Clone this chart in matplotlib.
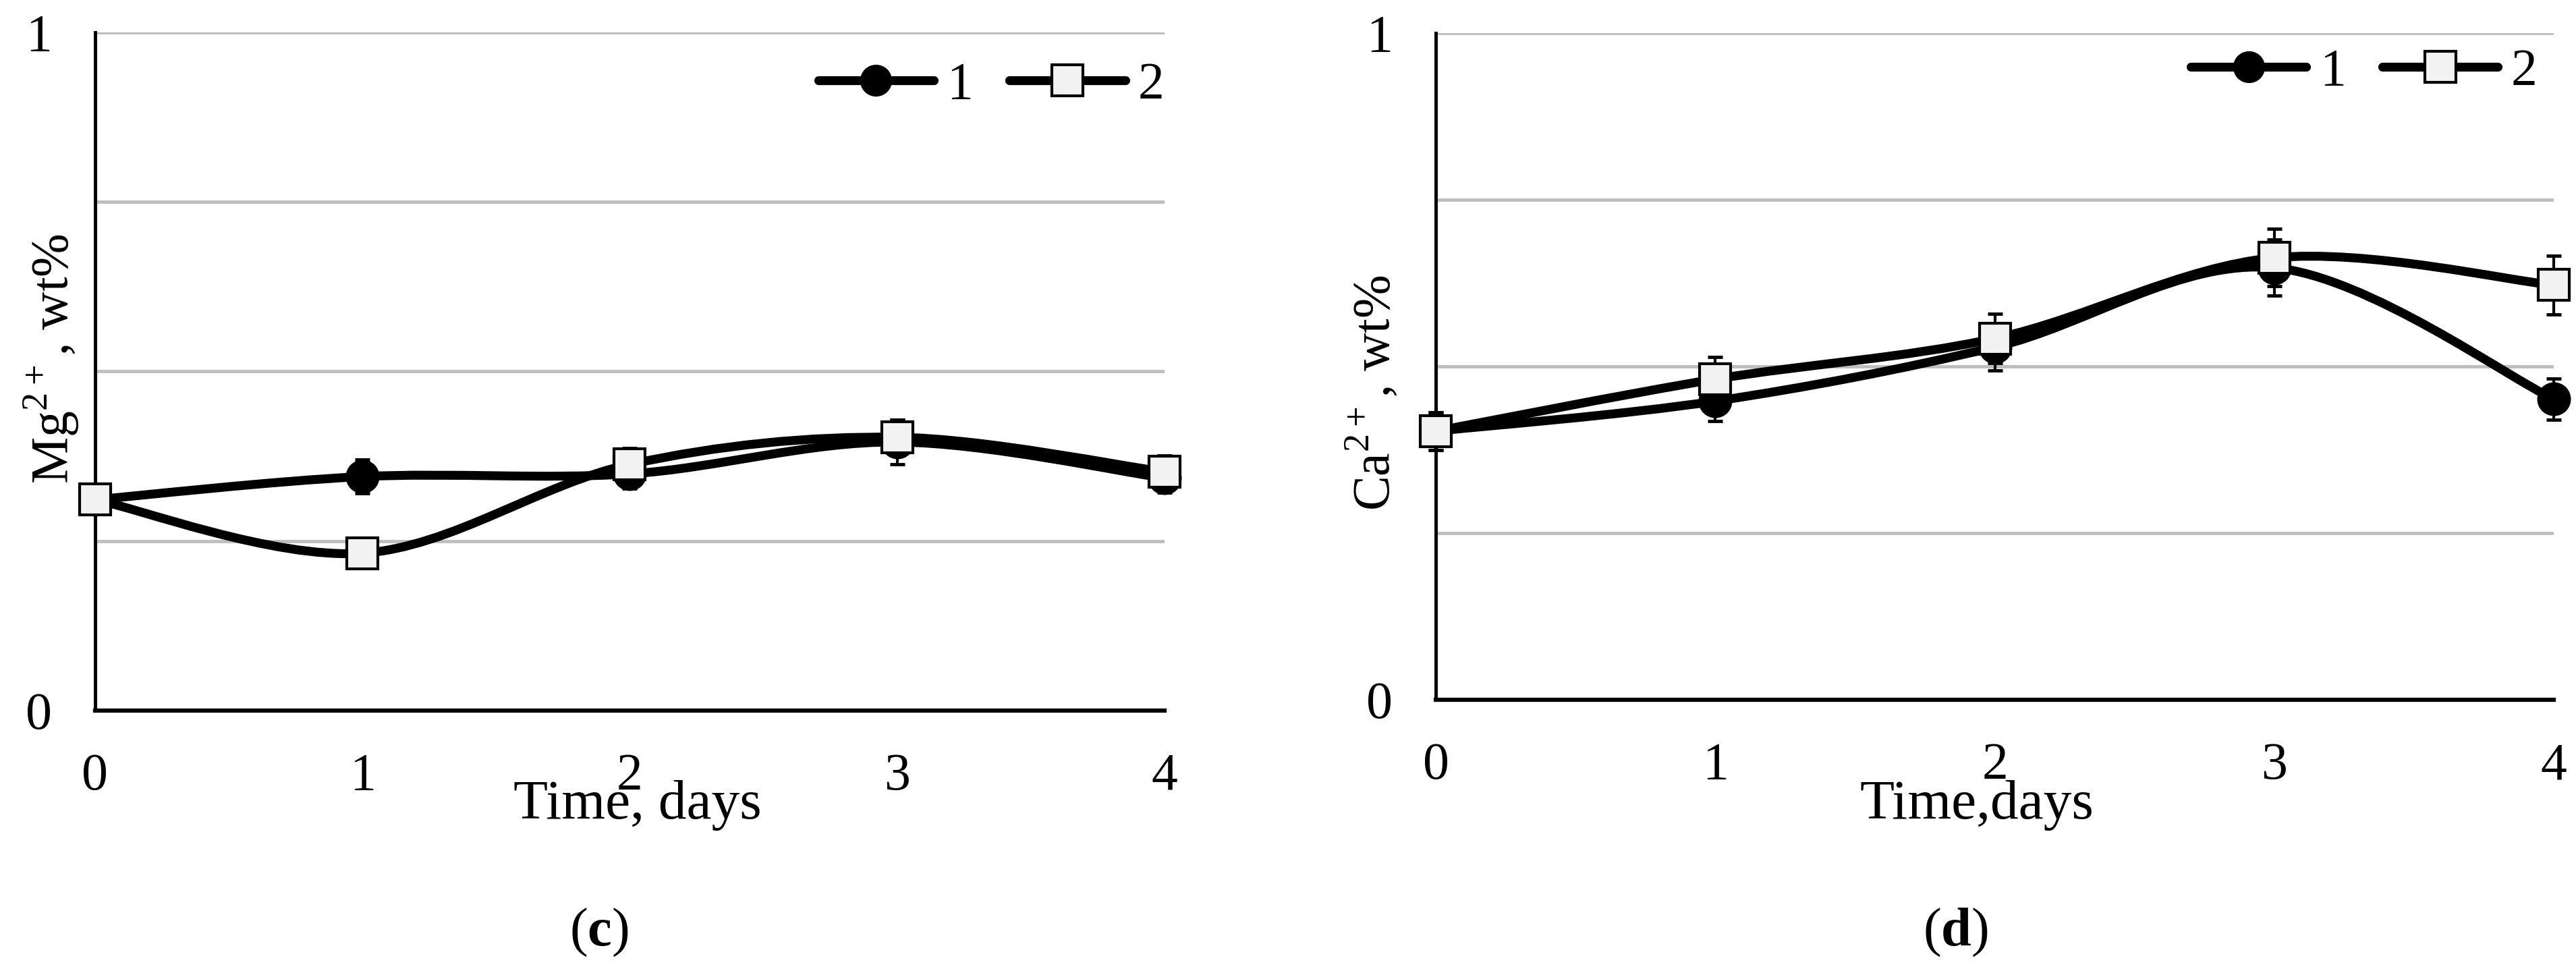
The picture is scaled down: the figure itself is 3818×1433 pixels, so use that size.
import matplotlib
matplotlib.use('Agg')
import matplotlib.pyplot as plt
from matplotlib.path import Path
from matplotlib.patches import PathPatch
from matplotlib.lines import Line2D
import numpy as np

plt.rcParams['font.family'] = ['Liberation Serif', 'DejaVu Serif']
plt.rcParams['mathtext.fontset'] = 'custom'
plt.rcParams['mathtext.rm'] = 'Liberation Serif'
plt.rcParams['mathtext.bf'] = 'Liberation Serif:bold'

days = [0, 1, 2, 3, 4]

# (c) Mg2+
mg_1 = [0.311, 0.345, 0.349, 0.396, 0.343]
mg_1_err = [0.012, 0.025, 0.022, 0.033, 0.022]
mg_2 = [0.311, 0.232, 0.363, 0.403, 0.352]
mg_2_err = [0.012, 0.012, 0.024, 0.026, 0.024]

# (d) Ca2+
ca_1 = [0.403, 0.448, 0.529, 0.648, 0.451]
ca_1_err = [0.028, 0.030, 0.035, 0.042, 0.031]
ca_2 = [0.403, 0.481, 0.542, 0.663, 0.622]
ca_2_err = [0.028, 0.033, 0.037, 0.043, 0.044]

FS = 56
LW = 9.5
MS = 33
SQ_FACE = '#F2F2F2'


def smooth_path(x, y):
    # Excel style smoothed line as cubic bezier through the points
    p = np.column_stack([x, y]).astype(float)
    n = len(p)
    verts = [p[0]]
    codes = [Path.MOVETO]
    for i in range(n - 1):
        prev = p[i - 1] if i > 0 else p[i]
        nxt = p[i + 2] if i + 2 < n else p[i + 1]
        c1 = p[i] + (p[i + 1] - prev) / 6.0
        c2 = p[i + 1] - (nxt - p[i]) / 6.0
        verts += [c1, c2, p[i + 1]]
        codes += [Path.CURVE4] * 3
    return Path(verts, codes)


def draw_series(ax, y, err, marker, face):
    ax.add_patch(PathPatch(smooth_path(days, y), fill=False, edgecolor='black',
                           lw=LW, capstyle='round', joinstyle='round', zorder=3))
    ax.errorbar(days, y, yerr=err, fmt='none', ecolor='black', elinewidth=3,
                capsize=8, capthick=3.5, zorder=4, clip_on=False)
    ax.plot(days, y, linestyle='none', marker=marker, ms=MS, mfc=face,
            mec='black', mew=3, zorder=5, clip_on=False)


def setup(ax, leg_x, leg_y):
    ax.set_xlim(0, 4)
    ax.set_ylim(0, 1)
    ax.set_xticks(days)
    ax.set_xticklabels([str(d) for d in days], fontsize=FS)
    ax.set_yticks([0, 0.25, 0.5, 0.75, 1])
    ax.set_yticklabels(['0', '', '', '', '1'], fontsize=FS)
    ax.tick_params(axis='both', length=0)
    ax.tick_params(axis='x', pad=45)
    ax.tick_params(axis='y', pad=46)
    ax.grid(axis='y', color='#BFBFBF', lw=3.6, zorder=0)
    ax.set_axisbelow(True)
    for s in ['top', 'right']:
        ax.spines[s].set_visible(False)
    ax.spines['left'].set_linewidth(3.6)
    ax.spines['bottom'].set_linewidth(4.5)
    h1 = Line2D([], [], color='black', lw=LW, marker='o', ms=MS, mfc='black',
                mec='black', solid_capstyle='round')
    h2 = Line2D([], [], color='black', lw=LW, marker='s', ms=MS, mfc=SQ_FACE,
                mec='black', mew=3, solid_capstyle='round')
    ax.legend([h1, h2], ['1', '2'], ncol=2, frameon=False, fontsize=FS,
              loc='center right', bbox_to_anchor=(leg_x, leg_y),
              borderpad=0, borderaxespad=0, handlelength=2.2,
              handletextpad=0.25, columnspacing=0.7)


fig = plt.figure(figsize=(38.18, 14.33), dpi=100)

ax1 = fig.add_axes([0.0369, 0.2652, 0.4151, 0.7013])
setup(ax1, 1.0, 0.921)
draw_series(ax1, mg_1, mg_1_err, 'o', 'black')
draw_series(ax1, mg_2, mg_2_err, 's', SQ_FACE)

ax2 = fig.add_axes([0.5574, 0.2763, 0.4340, 0.6895])
setup(ax2, 0.985, 0.941)
draw_series(ax2, ca_1, ca_1_err, 'o', 'black')
draw_series(ax2, ca_2, ca_2_err, 's', SQ_FACE)

fig.text(76 / 3818, 1 - 532 / 1433, r'Mg$^{2+}$, wt%', rotation=90,
         ha='center', va='center', fontsize=FS)
fig.text(2035 / 3818, 1 - 582 / 1433, r'Ca$^{2+}$, wt%', rotation=90,
         ha='center', va='center', fontsize=FS)

fig.text(945 / 3818, 1 - 1213 / 1433, 'Time, days', ha='center',
         va='baseline', fontsize=60)
fig.text(2930 / 3818, 1 - 1213 / 1433, 'Time,days', ha='center',
         va='baseline', fontsize=60)

fig.text(888 / 3818, 1 - 1382 / 1433, r'($\mathbf{c}$)', ha='center',
         va='center', fontsize=58)
fig.text(2898 / 3818, 1 - 1382 / 1433, r'($\mathbf{d}$)', ha='center',
         va='center', fontsize=58)

fig.savefig('out.png', dpi=100)
